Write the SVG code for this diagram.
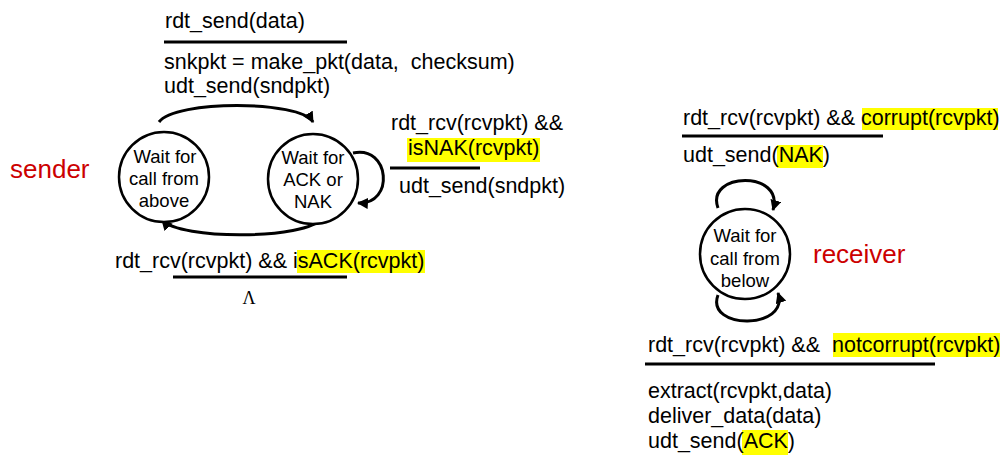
<svg xmlns="http://www.w3.org/2000/svg" width="1008" height="462" viewBox="0 0 1008 462">
<defs>
<style>
.t{font-family:"Liberation Sans",Arial,sans-serif;font-size:21.5px;fill:#000;white-space:pre}
.n{font-family:"Liberation Sans",Arial,sans-serif;font-size:18.5px;fill:#000;text-anchor:middle}
.red{font-family:"Liberation Sans",Arial,sans-serif;font-size:26px;fill:#cc0000}
.st{fill:#fff;stroke:#000;stroke-width:2.5}
.c{fill:none;stroke:#000;stroke-width:3}
.bar{stroke:#000;stroke-width:3}
.hl{fill:#ffff00}
</style>
<marker id="ah" viewBox="0 0 10 10" refX="9" refY="5" markerWidth="11" markerHeight="11" markerUnits="userSpaceOnUse" orient="auto">
<path d="M0,0 L10,5 L0,10 z" fill="#000"/>
</marker>
</defs>
<rect width="1008" height="462" fill="#fff"/>

<text class="red" x="10" y="178">sender</text>
<text class="red" x="813" y="263">receiver</text>

<g id="connectors">
<path class="c" d="M159,122 C175,100 300,100 313,122" marker-end="url(#ah)"/>
<path class="c" d="M323,218 C305,240 180,240 162,220" marker-end="url(#ah)"/>
<path class="c" d="M353,153 C390,145 395,205 358,203" marker-end="url(#ah)"/>
<path class="c" d="M718,208 C705,172 785,170 773,210" marker-end="url(#ah)"/>
<path class="c" d="M718,295 C705,330 790,330 778,293" marker-end="url(#ah)"/>
</g>

<g id="s_wait_above">
<circle class="st" cx="164" cy="177" r="45"/>
<text class="n" x="165" y="163">Wait for</text>
<text class="n" x="164" y="185">call from</text>
<text class="n" x="164" y="207">above</text>
</g>
<g id="s_wait_ack">
<circle class="st" cx="313" cy="179" r="45"/>
<text class="n" x="313" y="164">Wait for</text>
<text class="n" x="313" y="186">ACK or</text>
<text class="n" x="313" y="208">NAK</text>
</g>
<g id="r_wait_below">
<circle class="st" cx="745" cy="254" r="45"/>
<text class="n" x="745" y="242">Wait for</text>
<text class="n" x="745" y="265">call from</text>
<text class="n" x="745" y="287">below</text>
</g>

<g id="label_send">
<text class="t" x="165" y="28">rdt_send(data)</text>
<line class="bar" x1="164" y1="42" x2="347" y2="42"/>
<text class="t" x="164" y="69" xml:space="preserve">snkpkt = make_pkt(data,  checksum)</text>
<text class="t" x="164" y="93">udt_send(sndpkt)</text>
</g>

<g id="label_nak">
<text class="t" x="391" y="130">rdt_rcv(rcvpkt) &amp;&amp;</text>
<rect class="hl" x="407" y="138" width="133" height="24"/>
<text class="t" x="408" y="155">isNAK(rcvpkt)</text>
<line class="bar" x1="390" y1="168" x2="480" y2="168"/>
<text class="t" x="399" y="193">udt_send(sndpkt)</text>
</g>

<g id="label_ack">
<rect class="hl" x="297" y="250" width="128" height="23"/>
<text class="t" x="115" y="268">rdt_rcv(rcvpkt) &amp;&amp; isACK(rcvpkt)</text>
<line class="bar" x1="173" y1="277" x2="347" y2="277"/>
<text x="249" y="304" style="font-family:'Liberation Serif','Times New Roman',serif;font-size:18px;text-anchor:middle">Λ</text>
</g>

<g id="label_corrupt">
<rect class="hl" x="862" y="108" width="136" height="22"/>
<text class="t" x="683" y="125">rdt_rcv(rcvpkt) &amp;&amp; corrupt(rcvpkt)</text>
<line class="bar" x1="682" y1="136" x2="883" y2="136"/>
<rect class="hl" x="777" y="145" width="46" height="23"/>
<text class="t" x="683" y="162">udt_send(NAK)</text>
</g>

<g id="label_notcorrupt">
<rect class="hl" x="833" y="333" width="167" height="24"/>
<text class="t" x="648" y="352" xml:space="preserve">rdt_rcv(rcvpkt) &amp;&amp;  notcorrupt(rcvpkt)</text>
<line class="bar" x1="645" y1="364" x2="935" y2="364"/>
<text class="t" x="648" y="398">extract(rcvpkt,data)</text>
<text class="t" x="648" y="423">deliver_data(data)</text>
<rect class="hl" x="742" y="430" width="46" height="25"/>
<text class="t" x="648" y="448">udt_send(ACK)</text>
</g>
</svg>
